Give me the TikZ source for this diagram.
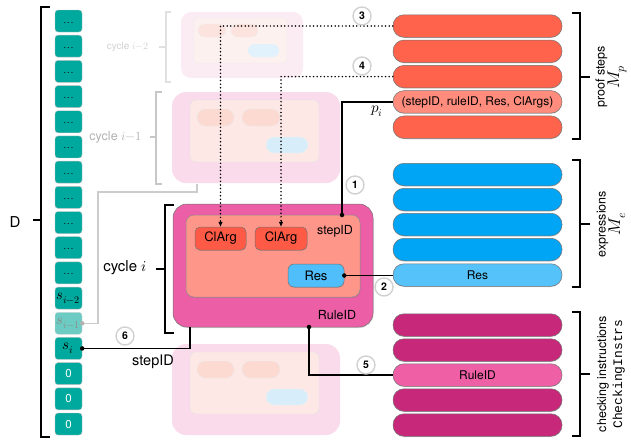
\documentclass[tikz,border=0pt]{standalone}
\usepackage{fontspec}
\usepackage{unicode-math}
\setmainfont{TeX Gyre Heros}
\setmathfont{Latin Modern Math}
\newfontfamily\monofont{Liberation Mono}
\usetikzlibrary{shadows,arrows.meta}
\definecolor{tealc}{HTML}{00A99D}
\definecolor{tealL}{HTML}{6CCBC2}
\definecolor{outerc}{HTML}{EC5EA6}
\definecolor{innerc}{HTML}{FF968A}
\definecolor{clargc}{HTML}{FF5A46}
\definecolor{resc}{HTML}{50BEFA}
\definecolor{pcol}{HTML}{FF634B}
\definecolor{pcolL}{HTML}{FF8C7D}
\definecolor{ecol}{HTML}{00A5F5}
\definecolor{ecolL}{HTML}{55C3FA}
\definecolor{ccol}{HTML}{C8287A}
\definecolor{ccolL}{HTML}{EE5FA5}
\definecolor{fOuter}{HTML}{F9DBEB}
\definecolor{fInner}{HTML}{FDE8E5}
\definecolor{fOval}{HTML}{FCDAD2}
\definecolor{fRes}{HTML}{D7EEFA}
\definecolor{gOuter}{HTML}{FBEBF3}
\definecolor{gInner}{HTML}{FDF1EF}
\definecolor{gOval}{HTML}{FCE3DD}
\definecolor{gRes}{HTML}{E1F2FC}
\begin{document}
\begin{tikzpicture}[x=1pt,y=-1pt,
  tealbox/.style={draw=black!25, line width=0.4pt, fill=tealc, rounded corners=3pt,
     minimum width=27pt, minimum height=22pt, inner sep=0pt},
  bar/.style={rounded corners=11pt, minimum width=169pt, minimum height=22.5pt,
     draw=black!55, line width=0.5pt, inner sep=0pt,
     drop shadow={shadow xshift=0pt, shadow yshift=-0.8pt, opacity=.3},
     font=\fontsize{12}{12}\selectfont},
  num/.style={circle, draw=black!18, line width=1.4pt, fill=white, minimum size=18pt,
     inner sep=0pt, font=\fontsize{10.5}{11}\selectfont\bfseries},
  conn/.style={line width=1.2pt},
  dotc/.style={line width=1.7pt, dash pattern=on 0pt off 3.6pt, line cap=round},
  jdot/.style={circle, fill=black, inner sep=0pt, minimum size=4.5pt},
  brk/.style={line width=1.4pt},
  fbox/.style={inner sep=0pt},
  lbl/.style={font=\fontsize{12.5}{14}\selectfont, rotate=90, align=center, inner sep=0pt}
]
\useasboundingbox (0,0) rectangle (631,439);

% ---- left D bracket
\draw[brk] (50,7) -- (41,7) -- (41,437) -- (50,437);
\draw[brk] (41,220) -- (33,220);
\node[font=\fontsize{15}{15}\selectfont] (D) at (15,222) {D};

% ---- teal column
\foreach \k in {0,...,10}
  \node[tealbox] (d\k) at (68.5,{21+25.19*\k}) {\fontsize{9}{9}\selectfont\raisebox{-4pt}{.\kern1.2pt.\kern1.2pt.}};
\node[tealbox] (d11) at (68.5,{21+25.19*11}) {\fontsize{14.5}{14}\selectfont$s_{i-2}$};
\node[tealbox, fill=tealL, draw=black!15] (d12) at (68.5,{21+25.19*12}) {\fontsize{14.5}{14}\selectfont\color{black!45}$s_{i-1}$};
\node[tealbox] (d13) at (68.5,{21+25.19*13}) {\fontsize{15}{14}\selectfont$s_{i}$};
\foreach \k in {14,15,16}
  \node[tealbox, text=white] (d\k) at (68.5,{21+25.19*\k}) {\fontsize{11.5}{12}\selectfont 0};

% ---- cycle i-2 (very faded)
\draw[line width=1.2pt, black!12] (171,12) -- (166,12) -- (166,82) -- (171,82);
\draw[line width=1.2pt, black!12] (166,47) -- (159,47);
\node[anchor=east, text=black!18, font=\fontsize{10}{10}\selectfont] (lc2) at (152,47) {cycle $i{-}2$};
\node[fbox, fill=gOuter, rounded corners=10pt, minimum width=122pt, minimum height=66pt] (o2) at (242,45) {};
\node[fbox, fill=gInner, draw=black!6, rounded corners=4pt, minimum width=93pt, minimum height=45pt] (i2) at (240.5,40.5) {};
\node[fbox, fill=gOval, draw=black!6, rounded corners=6.5pt, minimum width=28pt, minimum height=13pt] (a2) at (212,30.5) {};
\node[fbox, fill=gOval, draw=black!6, rounded corners=6.5pt, minimum width=27pt, minimum height=13pt] (b2) at (244.5,30.5) {};
\node[fbox, fill=gRes, rounded corners=6.5pt, minimum width=31pt, minimum height=13pt] (r2) at (263.5,50.5) {};

% ---- cycle i-1 (faded)
\draw[line width=1.2pt, black!22] (162,92) -- (156,92) -- (156,184) -- (162,184);
\draw[line width=1.2pt, black!22] (156,137) -- (150,137);
\node[anchor=east, text=black!30, font=\fontsize{12.5}{12}\selectfont] (lc1) at (145,137) {cycle $i{-}1$};
\node[fbox, fill=fOuter, rounded corners=14pt, minimum width=168pt, minimum height=91pt] (o1) at (256,137.5) {};
\node[fbox, fill=fInner, draw=black!10, rounded corners=6pt, minimum width=129pt, minimum height=62pt] (i1) at (254.5,131) {};
\node[fbox, fill=fOval, draw=black!8, rounded corners=8pt, minimum width=37pt, minimum height=17pt] (a1) at (215.5,117.5) {};
\node[fbox, fill=fOval, draw=black!8, rounded corners=8pt, minimum width=38pt, minimum height=17pt] (b1) at (261,117.5) {};
\node[fbox, fill=fRes, draw=black!6, rounded corners=8pt, minimum width=42pt, minimum height=16pt] (r1) at (287,145) {};

% ---- cycle i+1 (faded, bottom)
\node[fbox, fill=fOuter, rounded corners=14pt, minimum width=168pt, minimum height=91pt] (o3) at (256,389.5) {};
\node[fbox, fill=fInner, draw=black!10, rounded corners=6pt, minimum width=129pt, minimum height=62pt] (i3) at (254.5,383) {};
\node[fbox, fill=fOval, draw=black!8, rounded corners=8pt, minimum width=37pt, minimum height=17pt] (a3) at (215.5,369.5) {};
\node[fbox, fill=fOval, draw=black!8, rounded corners=8pt, minimum width=38pt, minimum height=17pt] (b3) at (261,369.5) {};
\node[fbox, fill=fRes, draw=black!6, rounded corners=8pt, minimum width=42pt, minimum height=16pt] (r3) at (287,397) {};

% ---- gray connector from s_{i-1}
\coordinate (pb) at (197,183.5);
\draw[line width=1.2pt, black!20] (d12.east) -| (98,192) -| (pb);
\fill[black!30] (d12.east) circle (2.2pt);

% ---- cycle i (main)
\draw[brk] (174,205) -- (165,205) -- (165,333) -- (174,333);
\draw[brk] (165,269) -- (156,269);
\node[anchor=east, font=\fontsize{15}{15}\selectfont] (lc) at (150,268) {cycle $i$};
\node[fbox, fill=outerc, draw=black!55, line width=0.5pt, rounded corners=14pt,
      minimum width=200pt, minimum height=123pt,
      drop shadow={shadow xshift=0.5pt, shadow yshift=-1pt, opacity=.3}] (cyc) at (273,265.5) {};
\node[fbox, fill=innerc, draw=black!45, line width=0.5pt, rounded corners=8pt,
      minimum width=174pt, minimum height=82pt,
      drop shadow={shadow xshift=0.5pt, shadow yshift=-1pt, opacity=.3}] (inner) at (273,256) {};
\node[fbox, fill=clargc, draw=black!55, line width=0.5pt, rounded corners=5pt,
      minimum width=51pt, minimum height=23pt, font=\fontsize{13}{13}\selectfont,
      drop shadow={shadow xshift=0.4pt, shadow yshift=-0.8pt, opacity=.3}] (cl1) at (220.5,238.5) {ClArg};
\node[fbox, fill=clargc, draw=black!55, line width=0.5pt, rounded corners=5pt,
      minimum width=52pt, minimum height=23pt, font=\fontsize{13}{13}\selectfont,
      drop shadow={shadow xshift=0.4pt, shadow yshift=-0.8pt, opacity=.3}] (cl2) at (281,238.5) {ClArg};
\node[fbox, fill=resc, draw=black!55, line width=0.5pt, rounded corners=6pt,
      minimum width=56pt, minimum height=23pt, font=\fontsize{13}{13}\selectfont,
      drop shadow={shadow xshift=0.4pt, shadow yshift=-0.8pt, opacity=.3}] (res) at (316,275.5) {Res};
\node[font=\fontsize{12.5}{13}\selectfont] (sl) at (335,231) {stepID};
\node[font=\fontsize{12.5}{13}\selectfont] (rl) at (337,315) {RuleID};

% ---- proof steps bars
\foreach \i/\yy in {1/26,2/51.3,3/76.6,5/127.2}
  \node[bar, fill=pcol] (p\i) at (477.5,\yy) {};
\node[bar, fill=pcolL] (p4) at (477.5,101.9) {(stepID, ruleID, Res, ClArgs)};
% ---- expression bars
\foreach \i/\yy in {1/174.5,2/199.5,3/224.5,4/249.5}
  \node[bar, fill=ecol] (e\i) at (477.5,\yy) {};
\node[bar, fill=ecolL] (e5) at (477.5,275) {Res};
% ---- checking instruction bars
\foreach \i/\yy in {1/325,2/350,4/400,5/425}
  \node[bar, fill=ccol] (c\i) at (477.5,\yy) {};
\node[bar, fill=ccolL] (c3) at (477.5,375) {RuleID};

% ---- right brackets and labels
\draw[brk] (572,13) -- (580,13) -- (580,139) -- (572,139);
\draw[brk] (580,77) -- (590,77);
\node[lbl] (lp) at (611,77) {proof steps\\[0pt]\fontsize{17}{17}\selectfont$M_p$};
\draw[brk] (572,160) -- (580,160) -- (580,287) -- (572,287);
\draw[brk] (580,224) -- (590,224);
\node[lbl] (le) at (611,224) {expressions\\[0pt]\fontsize{17}{17}\selectfont$M_e$};
\draw[brk] (572,312) -- (580,312) -- (580,436) -- (572,436);
\draw[brk] (580,374) -- (590,374);
\node[lbl] (lcI) at (611,374) {checking instructions\\[2pt]{\monofont\fontsize{13}{13}\selectfont CheckingInstrs}};

% ---- dotted connectors 3 and 4
\draw[dotc] (p1.west) -| ([yshift=3pt]cl1.north);
\draw[-{Latex[length=5pt,width=4.5pt]}, line width=0.6pt] ([yshift=6pt]cl1.north) -- (cl1.north);
\draw[dotc] (p3.west) -| ([yshift=3pt]cl2.north);
\draw[-{Latex[length=5pt,width=4.5pt]}, line width=0.6pt] ([yshift=6pt]cl2.north) -- (cl2.north);

% ---- solid connectors
\coordinate (sd) at (342,215);
\draw[conn] (p4.west) -| (sd);
\node[jdot] at (sd) {};
\node[font=\fontsize{15}{15}\selectfont] (pl) at (377,111) {$p_i$};

\draw[conn] (res.east) -- (res.east -| e5.west);
\node[jdot] at (res.east) {};

\coordinate (rd) at (309,327);
\draw[conn] (rd) |- (c3.west);
\node[jdot] at (rd) {};

\coordinate (sb) at (190,327);
\draw[conn] (d13.east) -| (sb);
\node[jdot] at (d13.east) {};
\node[font=\fontsize{14.5}{15}\selectfont] (sil) at (153,362) {stepID};

% ---- step numbers
\node[num] (n1) at (355,185) {1};
\node[num] (n2) at (384,287) {2};
\node[num] (n3) at (362,16) {3};
\node[num] (n4) at (362,66) {4};
\node[num] (n5) at (366,365) {5};
\node[num] (n6) at (125,336) {6};
\end{tikzpicture}
\end{document}
